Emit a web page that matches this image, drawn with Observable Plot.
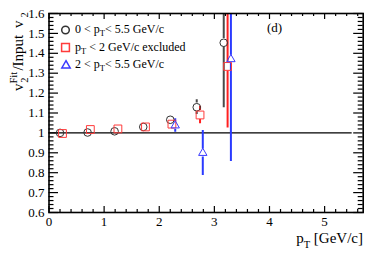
<!DOCTYPE html>
<html>
<head>
<meta charset="utf-8">
<script src="https://cdn.jsdelivr.net/npm/d3@7"></script>
<script src="https://cdn.jsdelivr.net/npm/@observablehq/plot@0.6"></script>
<style>
  html, body { margin: 0; padding: 0; background: white; }
  #chart { width: 374px; height: 253px; }
</style>
</head>
<body>
<div id="chart"></div>
<script>
// ---- data ----
const circX = [0.20, 0.70, 1.19, 1.71, 2.20, 2.68, 3.17];
const circY = [1.000, 1.002, 1.008, 1.030, 1.066, 1.129, 1.453];
const circE = [0.004, 0.004, 0.006, 0.008, 0.010, 0.037, 0.327];

const sqX = [0.245, 0.75, 1.25, 1.75, 2.23, 2.74, 3.24];
const sqY = [0.997, 1.017, 1.020, 1.030, 1.044, 1.090, 1.334];
const sqE = [0.004, 0.004, 0.006, 0.008, 0.012, 0.044, 0.310];

const triX = [2.29, 2.79, 3.30];
const triY = [1.037, 0.899, 1.370];
const triE = [0.034, 0.113, 0.514];

const xTicks = [0, 1, 2, 3, 4, 5];
const xMinor = [0.2,0.4,0.6,0.8,1.2,1.4,1.6,1.8,2.2,2.4,2.6,2.8,3.2,3.4,3.6,3.8,4.2,4.4,4.6,4.8,5.2,5.4,5.6];
const yTicks = [0.6, 0.7, 0.8, 0.9, 1.0, 1.1, 1.2, 1.3, 1.4, 1.5, 1.6];
const yMinor = d3.range(30, 80).filter(k => k % 5 !== 0).map(k => k / 50);
const xDomain = [0, 5.7];
const yDomain = [0.6, 1.6];
const refY = [1];
const refX = [0, 5.5];

const legendLabels = [
  ["0 < p", "T", "< 5.5 GeV/c"],
  ["p", "T", " < 2 GeV/c excluded"],
  ["2 < p", "T", "< 5.5 GeV/c"]
];

// ---- layout ----
const W = 374, H = 253;
const mL = 48.5, mR = 11.3, mT = 13, mB = 41;
const pW = W - mL - mR, pH = H - mT - mB;
const FONT = "'Liberation Serif', 'Times New Roman', serif";

const rows = (xs, ys, es) => xs.map((x, i) => ({x, y: ys[i], e: es[i]}));
const circ = rows(circX, circY, circE);
const sq = rows(sqX, sqY, sqE);
const tri = rows(triX, triY, triE);

function errBars(data, color, gap) {
  const big = data.filter(d => d.e > 0.02);
  return [
    Plot.ruleX(big, {x: "x", y1: d => d.y + d.e, y2: "y", stroke: color, strokeWidth: 2, insetBottom: gap, clip: true}),
    Plot.ruleX(big, {x: "x", y1: "y", y2: d => d.y - d.e, stroke: color, strokeWidth: 2, insetTop: gap, clip: true})
  ];
}

const cBlack = "#333", cRed = "#ff3b3b", cBlue = "#3a3aff";

const chart = Plot.plot({
  width: W, height: H,
  marginLeft: mL, marginRight: mR, marginTop: mT, marginBottom: mB,
  x: {domain: xDomain, axis: null},
  y: {domain: yDomain, axis: null},
  style: {fontFamily: FONT, fontSize: "13px", background: "white", color: "black"},
  marks: [
    // tick labels
    Plot.axisX(xTicks, {tickSize: 0, tickPadding: 4, fontSize: 13, label: null, tickFormat: d3.format("~g")}),
    Plot.axisY(yTicks, {tickSize: 0, tickPadding: 4.5, fontSize: 13, label: null, tickFormat: d3.format("~g")}),
    // inward ticks (ROOT style), all four sides
    Plot.tickY(yTicks, {y: d => d, insetRight: pW - 9.5, strokeWidth: 1.2}),
    Plot.tickY(yMinor, {y: d => d, insetRight: pW - 5, strokeWidth: 1.2}),
    Plot.tickY(yTicks, {y: d => d, insetLeft: pW - 9.5, strokeWidth: 1.2}),
    Plot.tickY(yMinor, {y: d => d, insetLeft: pW - 5, strokeWidth: 1.2}),
    Plot.tickX(xTicks, {x: d => d, insetTop: pH - 6, strokeWidth: 1.2}),
    Plot.tickX(xMinor, {x: d => d, insetTop: pH - 3, strokeWidth: 1.2}),
    Plot.tickX(xTicks, {x: d => d, insetBottom: pH - 6, strokeWidth: 1.2}),
    Plot.tickX(xMinor, {x: d => d, insetBottom: pH - 3, strokeWidth: 1.2}),
    // reference line
    Plot.ruleY(refY, {y: d => d, x1: refX[0], x2: refX[1], stroke: "black", strokeWidth: 1.3}),
    // error bars
    ...errBars(circ, "#4a4a4a", 4.2),
    ...errBars(sq, "#ff2020", 4.5),
    ...errBars(tri, "#2a3aff", 4),
    // markers
    Plot.dot(circ, {x: "x", y: "y", r: 3.8, stroke: cBlack, fill: "none", strokeWidth: 1}),
    Plot.dot(sq, {x: "x", y: "y", symbol: "square", r: 4.4, stroke: cRed, fill: "none", strokeWidth: 1}),
    Plot.dot(tri, {x: "x", y: "y", symbol: "triangle", r: 3.1, stroke: cBlue, fill: "none", strokeWidth: 1}),
    // legend markers
    Plot.dot([0], {frameAnchor: "top-left", dx: 16.5, dy: 16.5, r: 3.8, stroke: cBlack, fill: "none"}),
    Plot.dot([0], {frameAnchor: "top-left", dx: 16.5, dy: 34, symbol: "square", r: 4.4, stroke: cRed, fill: "none"}),
    Plot.dot([0], {frameAnchor: "top-left", dx: 17, dy: 52, symbol: "triangle", r: 3.1, stroke: cBlue, fill: "none"}),
    // frame
    Plot.frame({stroke: "black", strokeWidth: 1.6})
  ]
});

document.getElementById("chart").appendChild(chart);

// ---- text with sub/superscripts ----
const svg = d3.select(chart);
const g = svg.append("g").attr("font-family", FONT).attr("fill", "black").attr("text-anchor", "start");

// legend text
legendLabels.forEach((parts, i) => {
  const t = g.append("text").attr("x", 75).attr("y", 33 + i * 17.5).attr("font-size", 12).attr("text-anchor", "start");
  t.append("tspan").text(parts[0]);
  t.append("tspan").attr("dy", 3).attr("font-size", 8.5).text(parts[1]);
  t.append("tspan").attr("dy", -3).text(parts[2]);
});

// panel tag
g.append("text").attr("x", 267).attr("y", 32).attr("font-size", 13).attr("text-anchor", "start").text("(d)");

// x label
const xl = g.append("text").attr("x", 363).attr("y", 243).attr("text-anchor", "end").attr("font-size", 15);
xl.append("tspan").text("p");
xl.append("tspan").attr("dy", 4.5).attr("font-size", 10.5).text("T");
xl.append("tspan").attr("dy", -4.5).text(" [GeV/c]");

// y label (rotated)
const yl = g.append("text").attr("transform", "translate(23,91) rotate(-90)").attr("font-size", 15).attr("text-anchor", "start");
yl.append("tspan").text("v");
yl.append("tspan").attr("dy", -6.5).attr("font-size", 10.5).text("Fit");
yl.append("tspan").attr("dx", -11).attr("dy", 11.5).attr("font-size", 10.5).text("2");
yl.append("tspan").attr("dx", 7).attr("dy", -5).text("/Input ");
yl.append("tspan").attr("dx", 3).text("v");
yl.append("tspan").attr("dx", 3).attr("dy", 4.5).attr("font-size", 10.5).text("2");
</script>
</body>
</html>
